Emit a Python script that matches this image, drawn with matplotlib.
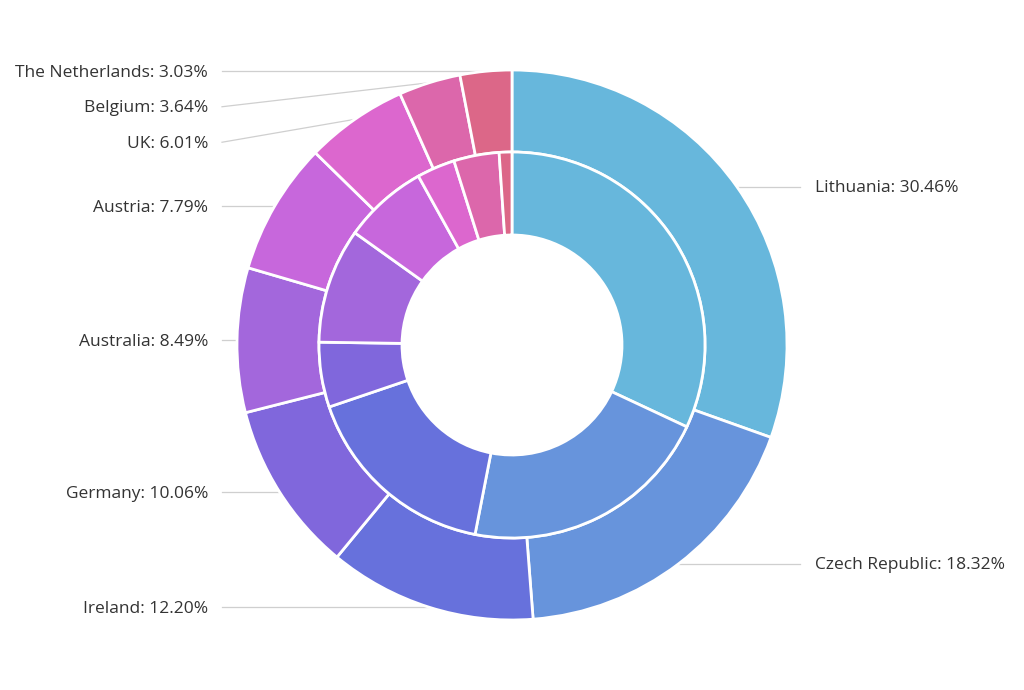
import numpy as np
import matplotlib
matplotlib.use("Agg")
import matplotlib.pyplot as plt

countries = ["Lithuania", "Czech Republic", "Ireland", "Germany", "Australia",
             "Austria", "UK", "Belgium", "The Netherlands"]
litres = [501.9, 301.9, 201.1, 165.8, 139.9, 128.3, 99, 60, 50]
bottles = [1500, 990, 785, 255, 452, 332, 150, 178, 50]
colors = ["#67b7dc", "#6794dc", "#6771dc", "#8067dc", "#a367dc",
          "#c767dc", "#dc67ce", "#dc67ab", "#dc6788"]

W, H, DPI = 1024, 690, 100
R = 275.0          # outer radius in px
CX, CY = 512.0, 345.0  # center from left / from bottom (px)

fig = plt.figure(figsize=(W / DPI, H / DPI), dpi=DPI)
fig.patch.set_facecolor("white")
ax = fig.add_axes([0, 0, 1, 1])
ax.axis("off")

wp = dict(edgecolor="white", linewidth=2.0)
ax.pie(litres, radius=1.0, colors=colors, startangle=90, counterclock=False,
       wedgeprops=dict(width=82 / R, **wp))
ax.pie(bottles, radius=193 / R, colors=colors, startangle=90, counterclock=False,
       wedgeprops=dict(width=83 / R, **wp))
ax.set_xlim(-CX / R, (W - CX) / R)
ax.set_ylim(-CY / R, (H - CY) / R)

total = sum(litres)
pct = [v / total * 100 for v in litres]
cum = np.cumsum([0] + litres[:-1]) / total
mid = (cum + np.array(litres) / total / 2) * 2 * np.pi  # clockwise from top
mx = np.sin(mid)
my = np.cos(mid)

gap = 35.5 / R
left = [i for i in range(len(countries)) if mx[i] < 0]
right = [i for i in range(len(countries)) if mx[i] >= 0]

def place(idxs):
    order = sorted(idxs, key=lambda i: -my[i])  # top to bottom
    ys = {}
    prev = None
    for i in order:
        y = my[i]
        if prev is not None and y > prev - gap:
            y = prev - gap
        ys[i] = y
        prev = y
    return ys

ly = place(left)
ry = place(right)

line_c = "#cfcfcf"
txt_c = "#333333"
fs = 12.5
dy = -1.5 / R
for i in left:
    x_end = (222 - CX) / R
    ax.plot([mx[i], x_end], [my[i], ly[i]], color=line_c, lw=0.9, zorder=0)
    ax.text((208 - CX) / R, ly[i] + dy, f"{countries[i]}: {pct[i]:.2f}%",
            ha="right", va="center", fontsize=fs, color=txt_c, family="Open Sans")
for i in right:
    x_end = (800 - CX) / R
    ax.plot([mx[i], x_end], [my[i], ry[i]], color=line_c, lw=0.9, zorder=0)
    ax.text((815 - CX) / R, ry[i] + dy, f"{countries[i]}: {pct[i]:.2f}%",
            ha="left", va="center", fontsize=fs, color=txt_c, family="Open Sans")

fig.savefig("out.png", dpi=DPI, facecolor="white")
